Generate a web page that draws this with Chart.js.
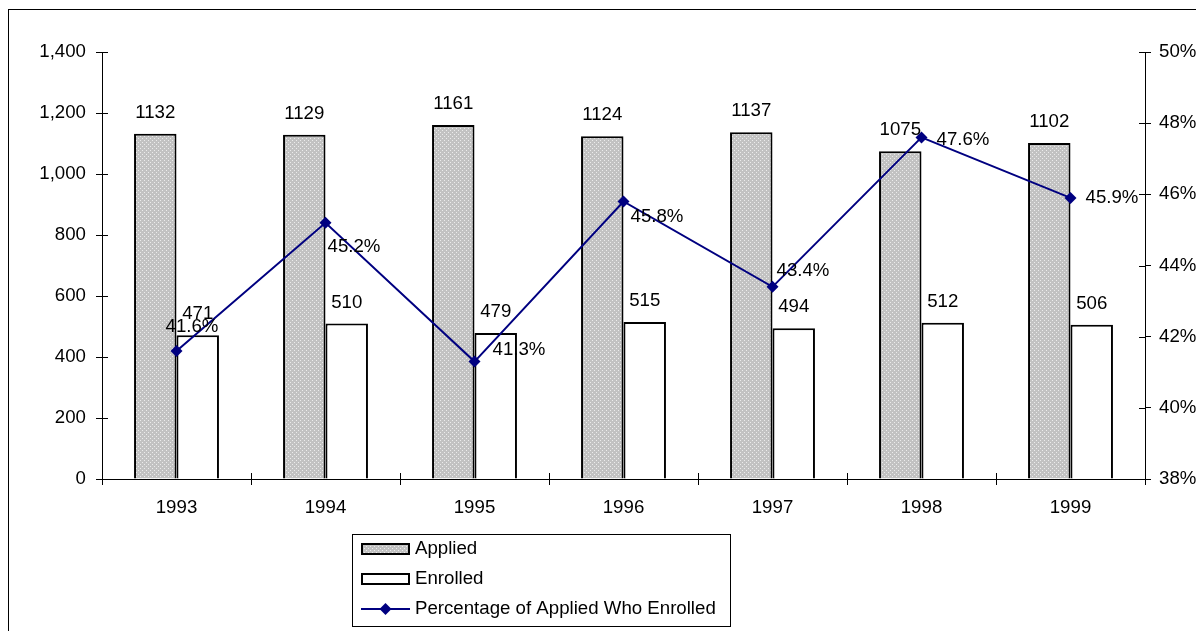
<!DOCTYPE html>
<html>
<head>
<meta charset="utf-8">
<script src="https://cdn.jsdelivr.net/npm/chart.js@4/dist/chart.umd.min.js"></script>
<style>
  body { margin: 0; background: #fff; }
  canvas { display: block; }
</style>
</head>
<body>
<canvas id="enrollChart" width="1196" height="631"></canvas>
<script>
// data
const years = ['1993', '1994', '1995', '1996', '1997', '1998', '1999'];
const applied = [1132, 1129, 1161, 1124, 1137, 1075, 1102];
const enrolled = [471, 510, 479, 515, 494, 512, 506];
const pctEnrolled = [41.6, 45.2, 41.3, 45.8, 43.4, 47.6, 45.9];
const countTicks = { min: 0, max: 1400, step: 200 };
const pctTicks = { min: 38, max: 50, step: 2 };

const FONT = '"Liberation Sans", Arial, sans-serif';
const FSIZE = 18.67;
const NAVY = '#000080';

function makePattern() {
  const c = document.createElement('canvas');
  c.width = 4; c.height = 4;
  const g = c.getContext('2d');
  g.fillStyle = '#c2c2c2';
  g.fillRect(0, 0, 4, 4);
  g.fillStyle = '#ececec';
  g.fillRect(0, 0, 1, 1);
  g.fillRect(2, 2, 1, 1);
  return g.createPattern(c, 'repeat');
}
const ctx = document.getElementById('enrollChart').getContext('2d');
const dots = makePattern();

// outer frame + cross ticks
const framePlugin = {
  id: 'frame',
  beforeDraw(chart) {
    const c = chart.ctx;
    c.save();
    c.strokeStyle = '#000';
    c.lineWidth = 1;
    c.strokeRect(8.5, 9.5, 1300, 800);
    c.restore();
  },
  afterDraw(chart) {
    const c = chart.ctx;
    const a = chart.chartArea;
    c.save();
    c.strokeStyle = '#000';
    c.lineWidth = 1;
    c.beginPath();
    chart.scales.y.ticks.forEach(t => {
      const y = Math.round(chart.scales.y.getPixelForValue(t.value)) + 0.5;
      c.moveTo(a.left, y); c.lineTo(a.left + 6, y);
    });
    chart.scales.y1.ticks.forEach(t => {
      const y = Math.round(chart.scales.y1.getPixelForValue(t.value)) + 0.5;
      c.moveTo(a.right, y); c.lineTo(a.right - 6, y);
    });
    const n = years.length;
    for (let i = 0; i <= n; i++) {
      const x = Math.round(a.left + i * (a.right - a.left) / n) + 0.5;
      c.moveTo(x, a.bottom); c.lineTo(x, a.bottom - 6);
    }
    c.stroke();
    c.restore();
  }
};

// value labels
const labelPlugin = {
  id: 'valueLabels',
  afterDatasetsDraw(chart) {
    const c = chart.ctx;
    c.save();
    c.fillStyle = '#000';
    c.font = FSIZE + 'px ' + FONT;
    c.textBaseline = 'middle';
    c.textAlign = 'center';
    [1, 2].forEach(di => {
      const ds = chart.data.datasets[di];
      chart.getDatasetMeta(di).data.forEach((bar, i) => {
        c.fillText(String(ds.data[i]), bar.x, bar.y - 21);
      });
    });
    // percentage labels, nudged like the original
    const shift = [[-11, -24], [2, 24], [18, -12], [7, 15], [4, -16], [15, 2], [15, 0]];
    c.textAlign = 'left';
    chart.getDatasetMeta(0).data.forEach((pt, i) => {
      c.fillText(pctEnrolled[i].toFixed(1) + '%', pt.x + shift[i][0], pt.y + shift[i][1]);
    });
    c.restore();
  }
};

// boxed legend under the plot
const legendPlugin = {
  id: 'boxLegend',
  afterDraw(chart) {
    const c = chart.ctx;
    const bx = 352, by = 534, bw = 378, bh = 92;
    c.save();
    c.strokeStyle = '#000';
    c.lineWidth = 1;
    c.strokeRect(bx + 0.5, by + 0.5, bw, bh);
    c.font = FSIZE + 'px ' + FONT;
    c.textBaseline = 'middle';
    c.textAlign = 'left';
    c.fillStyle = '#000';
    const ds = chart.data.datasets;
    // Applied
    c.fillStyle = dots;
    c.fillRect(361, 543, 49, 12);
    c.lineWidth = 2;
    c.strokeRect(362, 544, 47, 10);
    c.fillStyle = '#000';
    c.fillText(ds[1].label, 415, 549);
    // Enrolled
    c.fillStyle = '#fff';
    c.fillRect(361, 573, 49, 12);
    c.strokeRect(362, 574, 47, 10);
    c.fillStyle = '#000';
    c.fillText(ds[2].label, 415, 579);
    // line
    c.strokeStyle = NAVY;
    c.beginPath();
    c.moveTo(361, 609); c.lineTo(410, 609);
    c.stroke();
    c.fillStyle = NAVY;
    c.beginPath();
    c.moveTo(385.5, 603); c.lineTo(391.5, 609); c.lineTo(385.5, 615); c.lineTo(379.5, 609);
    c.closePath();
    c.fill();
    c.fillStyle = '#000';
    c.fillText(ds[0].label, 415, 609);
    c.restore();
  }
};

new Chart(ctx, {
  type: 'bar',
  data: {
    labels: years,
    datasets: [{
      type: 'line',
      label: 'Percentage of Applied Who Enrolled',
      data: pctEnrolled,
      yAxisID: 'y1',
      borderColor: NAVY,
      backgroundColor: NAVY,
      borderWidth: 2,
      pointStyle: 'rectRot',
      pointRadius: 6,
      pointBorderWidth: 0,
      tension: 0,
      order: 0
    }, {
      label: 'Applied',
      data: applied,
      yAxisID: 'y',
      backgroundColor: dots,
      borderColor: '#000',
      borderWidth: 2,
      categoryPercentage: 0.57,
      barPercentage: 1,
      order: 1
    }, {
      label: 'Enrolled',
      data: enrolled,
      yAxisID: 'y',
      backgroundColor: '#fff',
      borderColor: '#000',
      borderWidth: 2,
      categoryPercentage: 0.57,
      barPercentage: 1,
      order: 1
    }]
  },
  options: {
    responsive: false,
    animation: false,
    layout: { padding: { top: 52, left: 0, right: 0, bottom: 0 } },
    plugins: {
      legend: { display: false },
      tooltip: { enabled: false }
    },
    scales: {
      x: {
        grid: { drawOnChartArea: false, tickLength: 6, color: '#000', offset: true },
        border: { color: '#000', width: 1 },
        ticks: { color: '#000', font: { family: FONT, size: FSIZE }, padding: 12 },
        afterFit: s => { s.height = 152; }
      },
      y: {
        position: 'left',
        min: countTicks.min,
        max: countTicks.max,
        grid: { drawOnChartArea: false, tickLength: 6, color: '#000' },
        border: { color: '#000', width: 1 },
        ticks: {
          stepSize: countTicks.step,
          color: '#000',
          font: { family: FONT, size: FSIZE },
          padding: 10,
          callback: v => v.toLocaleString('en-US')
        },
        afterFit: s => { s.width = 102; }
      },
      y1: {
        position: 'right',
        min: pctTicks.min,
        max: pctTicks.max,
        grid: { drawOnChartArea: false, tickLength: 6, color: '#000' },
        border: { color: '#000', width: 1 },
        ticks: {
          stepSize: pctTicks.step,
          color: '#000',
          font: { family: FONT, size: FSIZE },
          padding: 8,
          callback: v => v + '%'
        },
        afterFit: s => { s.width = 51; }
      }
    }
  },
  plugins: [framePlugin, labelPlugin, legendPlugin]
});
</script>
</body>
</html>
